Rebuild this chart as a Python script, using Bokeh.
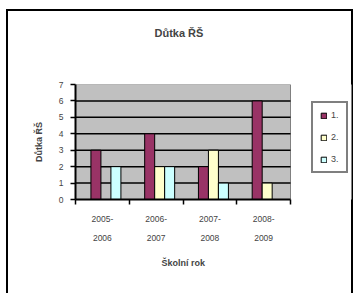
from bokeh.plotting import figure
from bokeh.models import (Range1d, LinearAxis, FixedTicker, Legend, LegendItem,
                          ColumnDataSource, Title)
from bokeh.embed import file_html
from bokeh.resources import INLINE

# ---- data ----
categories = ["2005-2006", "2006-2007", "2007-2008", "2008-2009"]
cat_line1 = ["2005-", "2006-", "2007-", "2008-"]
cat_line2 = ["2006", "2007", "2008", "2009"]
series_names = ["1.", "2.", "3."]
series1 = [3, 4, 2, 6]
series2 = [0, 2, 3, 1]
series3 = [2, 2, 1, 0]
y_ticks = [0, 1, 2, 3, 4, 5, 6, 7]
title_text = "Důtka ŘŠ"
x_title = "Školní rok"
y_title = "Důtka ŘŠ"

colors = ["#993366", "#FFFFCC", "#CCFFFF"]
offsets = [-0.12, 0.066, 0.252]
bar_w = 0.186

FONT = "Liberation Sans"
n = len(categories)
y_max = y_ticks[-1]

# layout (page pixels)
W, H = 353, 293
LEFT, TOP, BOTTOM, RIGHT = 75, 84, 94, 2
PLOT_W = 215
FRAME_W = W - LEFT - RIGHT
x_end = n * FRAME_W / PLOT_W

p = figure(width=W, height=H, output_backend="svg", toolbar_location=None,
           x_range=Range1d(0, x_end), y_range=Range1d(0, y_max),
           min_border_left=LEFT, min_border_right=RIGHT, min_border_top=TOP,
           min_border_bottom=BOTTOM)
p.title = None
# chart border (left, top, right) drawn as inset shadows behind the canvas
p.styles = {"box-shadow": ("inset 6px 0 0 0 white, inset 0 9px 0 0 white, "
                           "inset 8px 0 0 0 black, inset 0 11px 0 0 black, "
                           "inset -2px 0 0 0 black")}
p.background_fill_color = "white"
p.border_fill_alpha = 0
p.outline_line_color = None

xa = p.below[0]
ya = p.left[0]

# grey plot area
p.quad(left=0, right=n, bottom=0, top=y_max, fill_color="#C0C0C0",
       line_color="#808080", line_width=1, level="image")

# horizontal grid lines limited to the plot area
p.xgrid.visible = False
p.ygrid.visible = False
grid_y = y_ticks[1:-1]
p.segment(x0=[0] * len(grid_y), x1=[n] * len(grid_y), y0=grid_y, y1=grid_y,
          line_color="black", line_width=1.5, level="underlay")

# y axis
ya.ticker = FixedTicker(ticks=y_ticks)
ya.axis_line_width = 2
ya.major_tick_line_width = 1.5
ya.major_tick_out = 5
ya.major_tick_in = 0
ya.minor_tick_line_color = None
ya.major_label_standoff = 7
ya.major_label_text_font = FONT
ya.major_label_text_font_size = "8.5px"
ya.axis_label = y_title
ya.axis_label_text_font = FONT
ya.axis_label_text_font_size = "9px"
ya.axis_label_text_font_style = "bold"
ya.axis_label_standoff = 12

# x axis: boundary ticks as minor ticks, labels at centres
centers = [i + 0.5 for i in range(n)]
bounds = list(range(n + 1))
xa.bounds = (0, n)
xa.ticker = FixedTicker(ticks=centers, minor_ticks=bounds)
xa.major_label_overrides = {c: l for c, l in zip(centers, cat_line1)}
xa.axis_line_width = 2
xa.major_tick_line_color = None
xa.major_tick_out = 0
xa.major_tick_in = 0
xa.minor_tick_line_color = "black"
xa.minor_tick_line_width = 1.5
xa.minor_tick_out = 5
xa.minor_tick_in = 0
xa.major_label_standoff = 11
xa.major_label_text_font = FONT
xa.major_label_text_font_size = "8.5px"

xa2 = LinearAxis(ticker=FixedTicker(ticks=centers), bounds=(0, n),
                 major_label_overrides={c: l for c, l in zip(centers, cat_line2)},
                 axis_line_color=None, major_tick_line_color=None,
                 minor_tick_line_color=None, major_tick_out=0, major_tick_in=0,
                 major_label_standoff=10, major_label_text_font=FONT,
                 major_label_text_font_size="8.5px")
p.add_layout(xa2, "below")

xt = Title(text=x_title, align="left", offset=86, standoff=24,
           text_font=FONT, text_font_size="9px", text_font_style="bold")
p.add_layout(xt, "below")

# spacer above the plot area (one white, invisible tick), then the chart title
spacer = LinearAxis(ticker=FixedTicker(ticks=[0]), axis_line_color=None,
                    major_tick_out=24, major_tick_in=0, major_label_standoff=0,
                    major_tick_line_color="white", minor_tick_line_color=None,
                    major_label_text_color=None, major_label_text_font_size="1px")
p.add_layout(spacer, "above")
tt = Title(text=title_text, align="left", offset=79, standoff=44,
           text_font=FONT, text_font_size="11px", text_font_style="bold")
p.add_layout(tt, "above")

# bars
renderers = []
for k, vals in enumerate([series1, series2, series3]):
    src = ColumnDataSource(dict(x=[i + 0.5 + offsets[k] for i in range(n)], top=vals))
    r = p.vbar(x="x", top="top", bottom=0, width=bar_w, source=src,
               fill_color=colors[k], line_color="black", line_width=1)
    renderers.append(r)

legend = Legend(items=[LegendItem(label=series_names[k], renderers=[renderers[k]])
                       for k in range(3)],
                location=(236, 26), orientation="vertical",
                glyph_width=7, glyph_height=7, label_height=10, label_width=6,
                spacing=12, padding=7, label_standoff=4, margin=0,
                label_text_font=FONT, label_text_font_size="9px",
                border_line_color="black", border_line_width=2,
                background_fill_color="white", background_fill_alpha=1)
p.add_layout(legend, "center")

open("out.html", "w").write(file_html(p, INLINE))
